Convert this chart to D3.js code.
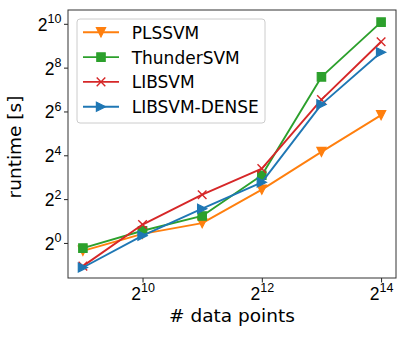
<!DOCTYPE html>
<html>
<head>
<meta charset="utf-8">
<script src="https://cdn.jsdelivr.net/npm/d3@7"></script>
<style>
  body { margin: 0; background: #fff; }
  svg { display: block; font-family: "DejaVu Sans", sans-serif; }
</style>
</head>
<body>
<svg id="chart"></svg>
<script>
// data points (x) and runtime in seconds (y)
var points = [512, 1024, 2048, 4096, 8192, 16384];
var plssvm = [0.78, 1.33, 1.87, 5.4, 17.8, 57];
var thundersvm = [0.85, 1.47, 2.35, 8.5, 191, 1080];
var libsvm = [0.48, 1.79, 4.6, 10.5, 93, 580];
var libsvmDense = [0.46, 1.26, 2.95, 6.8, 80, 416];
var xTickExp = [10, 12, 14];
var yTickExp = [0, 2, 4, 6, 8, 10];

var series = [
    {name: "PLSSVM", values: plssvm, color: "#ff7f0e", marker: "tridown"},
    {name: "ThunderSVM", values: thundersvm, color: "#2ca02c", marker: "square"},
    {name: "LIBSVM", values: libsvm, color: "#d62728", marker: "x"},
    {name: "LIBSVM-DENSE", values: libsvmDense, color: "#1f77b4", marker: "triright"}
];

var W = 407, H = 339;
var margin = {top: 10, right: 11, bottom: 61, left: 68},
    width = W - margin.left - margin.right,
    height = H - margin.top - margin.bottom;

var svg = d3.select("#chart").attr("width", W).attr("height", H);

var x = d3.scaleLog().base(2).domain([Math.pow(2, 8.75), Math.pow(2, 14.25)]).range([0, width]);
var y = d3.scaleLog().base(2).domain([Math.pow(2, -1.6), Math.pow(2, 10.63)]).range([height, 0]);

var g = svg.append("g").attr("transform", "translate(" + margin.left + "," + margin.top + ")");

// power-of-two labels with superscript
function powLabel(sel) {
    sel.each(function(d) {
        var t = d3.select(this).text(null);
        t.append("tspan").text("2");
        t.append("tspan").attr("dy", "-7.5").style("font-size", "12.5px").text(Math.round(Math.log2(d)));
    });
}

var xAxis = d3.axisBottom(x)
    .tickValues(xTickExp.map(function(e) { return Math.pow(2, e); }))
    .tickSize(4.5);

var yAxis = d3.axisLeft(y)
    .tickValues(yTickExp.map(function(e) { return Math.pow(2, e); }))
    .tickSize(4).tickPadding(2.5);

var gx = g.append("g").attr("transform", "translate(0," + height + ")").call(xAxis);
gx.select(".domain").remove();
gx.selectAll("line").attr("stroke", "#222");
gx.selectAll("text").attr("font-size", 17.5).attr("fill", "#000")
    .attr("y", 21.5).attr("dy", null).call(powLabel);

var gy = g.append("g").call(yAxis);
gy.select(".domain").remove();
gy.selectAll("line").attr("stroke", "#222");
gy.selectAll("text").attr("font-size", 17.5).attr("fill", "#000")
    .attr("dy", 6.5).call(powLabel);

// frame
g.append("rect")
    .attr("width", width).attr("height", height)
    .attr("fill", "none").attr("stroke", "#333").attr("stroke-width", 1);

// matplotlib-like marker shapes, s = marker size in px
function markerPath(type, s) {
    var h = s / 2;
    if (type === "tridown") return "M0," + h + "L" + (-h) + "," + (-h) + "L" + h + "," + (-h) + "Z";
    if (type === "triright") return "M" + h + ",0L" + (-h) + "," + (-h) + "L" + (-h) + "," + h + "Z";
    if (type === "square") return "M" + (-h) + "," + (-h) + "H" + h + "V" + h + "H" + (-h) + "Z";
    return "M" + (-h) + "," + (-h) + "L" + h + "," + h + "M" + (-h) + "," + h + "L" + h + "," + (-h);
}

var markerSize = {tridown: 9.2, triright: 9.2, square: 8.4, x: 8.6};

function drawMarker(sel, type, color) {
    var filled = type !== "x";
    sel.attr("d", markerPath(type, markerSize[type]))
        .attr("fill", filled ? color : "none")
        .attr("stroke", color)
        .attr("stroke-width", filled ? 1.2 : 1.4)
        .attr("stroke-linejoin", "miter");
}

var line = d3.line()
    .x(function(d, i) { return x(points[i]); })
    .y(function(d) { return y(d); });

series.forEach(function(s) {
    g.append("path")
        .datum(s.values)
        .attr("fill", "none")
        .attr("stroke", s.color)
        .attr("stroke-width", 1.9)
        .attr("stroke-linejoin", "round")
        .attr("d", line);

    g.selectAll(null)
        .data(s.values)
        .enter().append("path")
        .attr("transform", function(d, i) { return "translate(" + x(points[i]) + "," + y(d) + ")"; })
        .call(drawMarker, s.marker, s.color);
});

// axis labels
svg.append("text")
    .attr("x", margin.left + width / 2).attr("y", 321.7)
    .attr("text-anchor", "middle").attr("font-size", 18.5)
    .text("# data points");

svg.append("text")
    .attr("transform", "translate(21," + (margin.top + height / 2 + 3) + ") rotate(-90)")
    .attr("text-anchor", "middle").attr("font-size", 18.5)
    .text("runtime [s]");

// legend
var leg = svg.append("g").attr("transform", "translate(77,19)");
leg.append("rect")
    .attr("width", 188).attr("height", 104).attr("rx", 3)
    .attr("fill", "#fff").attr("fill-opacity", 0.8)
    .attr("stroke", "#ccc").attr("stroke-width", 1);

series.forEach(function(s, i) {
    var row = leg.append("g").attr("transform", "translate(0," + (13.3 + i * 24.8) + ")");
    row.append("line")
        .attr("x1", 6).attr("x2", 42)
        .attr("stroke", s.color).attr("stroke-width", 1.9);
    row.append("path")
        .attr("transform", "translate(24,0)")
        .call(drawMarker, s.marker, s.color);
    row.append("text")
        .attr("x", 54.7).attr("y", 6.5)
        .attr("font-size", 17)
        .text(s.name);
});
</script>
</body>
</html>
